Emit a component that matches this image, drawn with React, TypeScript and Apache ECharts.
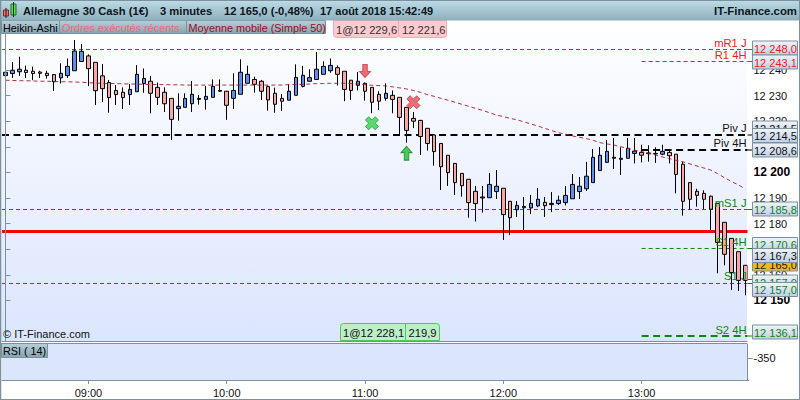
import React, { useEffect, useRef } from "react";
import * as echarts from "echarts";

const opens = [12237.8,12238.6,12239.3,12239.9,12239.5,12239.2,12238.7,12238.2,12236.9,12237.8,12239.7,12243.3,12245.5,12243.0,12237.7,12235.1,12232.0,12231.3,12230.4,12231.5,12234.7,12235.6,12233.2,12231.3,12228.9,12224.9,12225.4,12226.8,12228.5,12228.5,12229.3,12231.7,12231.7,12228.9,12230.5,12234.8,12236.3,12235.6,12233.5,12230.9,12228.9,12228.2,12230.1,12233.6,12235.6,12236.3,12238.3,12239.7,12240.9,12239.5,12236.0,12234.0,12234.8,12233.2,12230.5,12228.9,12230.1,12229.3,12225.4,12221.1,12220.3,12217.2,12214.6,12211.3,12206.7,12203.5,12199.6,12197.3,12192.6,12190.0,12190.1,12192.5,12193.8,12188.7,12185.4,12186.2,12186.1,12186.9,12188.3,12187.4,12187.8,12188.2,12189.7,12192.5,12193.6,12196.0,12200.7,12203.9,12205.5,12205.1,12205.5,12207.4,12207.8,12207.3,12207.4,12207.1,12207.8,12207.1,12203.2,12196.0,12192.6,12191.8,12190.7,12187.9,12180.5,12174.2,12169.0,12163.7];
const closes = [12239.1,12239.9,12240.3,12239.0,12238.6,12238.7,12237.8,12235.4,12238.7,12241.4,12247.4,12247.3,12240.5,12231.9,12232.7,12229.2,12230.4,12229.2,12232.4,12238.3,12236.7,12230.9,12229.3,12226.8,12220.7,12225.8,12228.9,12230.5,12228.9,12229.7,12233.6,12232.0,12226.2,12232.0,12239.1,12238.3,12234.4,12231.7,12228.3,12226.6,12227.8,12231.7,12237.1,12237.9,12237.0,12240.3,12241.4,12241.8,12238.3,12232.4,12232.0,12235.6,12231.7,12227.4,12227.8,12230.9,12228.5,12221.5,12216.4,12220.0,12214.0,12211.3,12208.1,12202.2,12199.9,12196.0,12194.8,12188.2,12187.8,12190.4,12195.3,12194.6,12183.5,12182.3,12187.1,12186.7,12187.9,12189.5,12187.0,12187.9,12189.1,12191.0,12195.3,12194.6,12198.5,12205.9,12206.7,12208.2,12205.9,12205.5,12209.4,12208.3,12206.7,12207.6,12207.2,12208.2,12206.5,12199.2,12188.7,12189.5,12191.0,12189.5,12185.6,12172.6,12168.0,12160.9,12157.8,12157.8];
const lows = [12235.7,12236.9,12237.7,12236.9,12236.0,12236.9,12236.6,12231.8,12234.7,12236.9,12239.7,12243.3,12233.7,12226.3,12227.5,12223.3,12226.3,12224.8,12226.3,12231.5,12231.1,12223.1,12226.3,12223.6,12212.7,12220.2,12225.4,12223.6,12226.5,12224.5,12229.3,12231.5,12220.5,12224.8,12230.5,12234.8,12231.1,12228.3,12224.1,12223.3,12224.0,12228.2,12230.1,12233.2,12235.4,12236.3,12238.3,12238.9,12233.9,12227.8,12228.3,12232.0,12228.0,12223.1,12224.4,12228.0,12223.1,12215.0,12211.6,12217.3,12206.8,12208.5,12202.6,12193.1,12194.7,12191.2,12190.5,12182.3,12180.8,12184.3,12190.1,12189.6,12173.6,12175.5,12182.6,12177.5,12183.7,12186.4,12182.6,12184.5,12187.3,12187.1,12189.7,12189.6,12192.7,12196.0,12200.7,12203.9,12201.3,12199.0,12205.5,12203.5,12203.9,12204.2,12203.7,12206.7,12203.5,12191.8,12183.1,12185.3,12186.6,12185.6,12177.5,12160.6,12163.7,12154.1,12153.7,12152.0];
const highs = [12241.6,12243.1,12245.2,12241.7,12241.3,12239.7,12239.7,12238.4,12242.6,12244.5,12251.7,12250.2,12246.1,12243.0,12242.3,12236.1,12234.1,12233.2,12234.5,12241.9,12240.6,12237.7,12235.1,12233.2,12228.9,12230.9,12230.9,12235.7,12230.2,12233.7,12236.3,12236.3,12231.8,12238.7,12244.2,12241.7,12237.4,12236.1,12233.9,12233.1,12230.6,12234.4,12242.2,12241.6,12240.3,12247.0,12243.4,12244.5,12241.8,12239.5,12236.1,12239.2,12235.1,12233.2,12231.7,12234.8,12232.0,12229.3,12225.4,12223.6,12220.5,12217.2,12214.6,12211.3,12206.7,12203.5,12199.6,12197.3,12194.7,12194.7,12199.8,12200.9,12193.8,12188.7,12188.8,12190.4,12191.2,12193.9,12190.4,12192.3,12190.9,12194.7,12199.4,12198.2,12204.1,12209.1,12209.9,12212.6,12213.4,12209.8,12213.4,12213.4,12210.8,12210.6,12209.8,12210.8,12208.9,12207.1,12204.1,12196.1,12193.6,12193.0,12190.9,12187.9,12180.5,12174.2,12169.0,12163.7];
const movingAverage = [12236.0,12235.9,12235.8,12235.8,12235.7,12235.6,12235.6,12235.5,12235.4,12235.4,12235.3,12235.2,12235.0,12234.9,12234.8,12234.7,12234.7,12234.6,12234.5,12234.5,12234.4,12234.3,12234.3,12234.3,12234.2,12234.2,12234.1,12234.1,12234.1,12234.1,12234.1,12234.1,12234.1,12234.1,12234.1,12234.1,12234.1,12234.1,12234.1,12234.1,12234.1,12234.3,12234.3,12234.4,12234.5,12234.7,12234.7,12234.8,12234.8,12234.8,12234.7,12234.5,12234.3,12234.0,12233.9,12233.8,12233.4,12233.0,12232.6,12232.0,12231.3,12230.4,12229.7,12228.9,12228.2,12227.4,12226.6,12225.8,12225.0,12224.2,12223.3,12222.4,12221.8,12221.1,12220.5,12219.7,12218.9,12218.1,12217.2,12216.3,12215.5,12214.9,12214.2,12213.7,12213.2,12212.5,12211.6,12211.1,12210.7,12210.0,12209.4,12208.7,12208.1,12207.4,12206.8,12206.0,12205.4,12204.7,12204.1,12203.3,12202.5,12201.7,12200.9,12199.5,12197.9,12196.4,12195.1,12193.5];

const priceTicks = [12250, 12240, 12230, 12220, 12210, 12200, 12190, 12180, 12170, 12160, 12150, 12140];
const boldTicks = [12200, 12150];
const rsiTicks = [350];
const hourLabels = ["09:00", "10:00", "11:00", "12:00", "13:00"];
const firstBarMinutes = 8 * 60 + 24;
const barMinutes = 3;
const categories = opens.map((_, i) => {
  const t = firstBarMinutes + i * barMinutes;
  return String(Math.floor(t / 60)).padStart(2, "0") + ":" + String(t % 60).padStart(2, "0");
});

const H13 = categories.indexOf("13:00");
const levelRows = [
  { name: "mR1 J", value: 12248.0, from: -0.5, color: "#e81c1c", width: 1, dash: [4, 3] },
  { name: "R1 4H", value: 12243.3, from: H13, color: "#e81c1c", width: 1, dash: [4, 3] },
  { name: "Piv J", value: 12214.6, from: -0.5, color: "#000000", width: 2, dash: [7, 4.5] },
  { name: "Piv 4H", value: 12208.74, from: H13, color: "#000000", width: 2, dash: [7, 4.5] },
  { name: "mS1 J", value: 12185.5, from: -0.5, color: "#0c860c", width: 1, dash: [4, 3] },
  { name: "S1 4H", value: 12170.27, from: H13, color: "#0c860c", width: 1, dash: [4, 3] },
  { name: "S1 J", value: 12156.6, from: -0.5, color: "#0c860c", width: 1, dash: [4, 3] },
  { name: "S2 4H", value: 12136.1, from: H13, color: "#0c860c", width: 2, dash: [7, 4.5] },
];
const stopLevel = 12176.9;

const sellArrow = [[52, 12239.6]];
const buyArrow = [[58, 12207.5]];
const redCross = [[59, 12227.4]];
const greenCross = [[53, 12219.2]];

const FONT = "'Liberation Sans', Arial, sans-serif";
const BORDER = "#7b919d";
const X_PATH = "path://M3 0L6 3L9 0L12 3L9 6L12 9L9 12L6 9L3 12L0 9L3 6L0 3Z";
const DOWN_PATH = "path://M3.5 0H8.5V7H12L6 13L0 7H3.5Z";
const UP_PATH = "path://M6 0L12 6H8.5V13H3.5V6H0Z";

const grad = (a: string, b: string) =>
  new echarts.graphic.LinearGradient(0, 0, 0, 1, [
    { offset: 0, color: a },
    { offset: 1, color: b },
  ]);

const text = (x: number, y: number, s: string, fill: string, opts: any = {}) => ({
  type: "text",
  z: opts.z ?? 20,
  x,
  y,
  style: {
    text: s,
    fill,
    font: `${opts.weight ?? "normal"} ${opts.size ?? 11}px ${FONT}`,
    textAlign: opts.align ?? "left",
    textVerticalAlign: "middle",
  },
});

const box = (x: number, y: number, w: number, h: number, fill: any, stroke: string | null, z: number, r: any = 0) => ({
  type: "rect",
  z,
  shape: { x, y, width: w, height: h, r },
  style: { fill, stroke: stroke ?? undefined, lineWidth: stroke ? 1 : 0 },
});

const priceTag = (cy: number, label: string, color: string, z: number, fill?: any) => [
  box(752.5, cy - 7, 45, 14, fill ?? grad("#f0f4fb", "#bfcfe6"), BORDER, z),
  text(754, cy + 0.5, label, color, { z: z + 0.1 }),
];

const connector = (y: number, color: string) => ({
  type: "line",
  z: 8,
  shape: { x1: 747.5, y1: y, x2: 752.5, y2: y },
  style: { stroke: color, lineWidth: 1 },
});

const tagFill = () => grad("#b7cfd9", "#87a3af");
const HEAD = "#0c1620";

const graphics: any[] = [
  box(1, 20, 746, 321, grad("#ffffff", "#dbe5fd"), null, -10),
  box(747.5, 0, 52.5, 380, "#ffffff", null, 4),
  box(0.5, 0.5, 799, 20, grad("#bcdbe6", "#8dafbb"), null, 15),
  box(3.5, 10, 5, 6, "#f26e6e", "#8a2020", 16),
  box(11, 4, 5, 11, "#55e055", "#207020", 16),
  { type: "line", z: 16, shape: { x1: 6, y1: 8, x2: 6, y2: 18 }, style: { stroke: "#222", lineWidth: 1 } },
  { type: "line", z: 16, shape: { x1: 13.5, y1: 2, x2: 13.5, y2: 17 }, style: { stroke: "#222", lineWidth: 1 } },
  text(23, 11, "Allemagne 30 Cash (1€)", HEAD, { size: 11.2, weight: "bold" }),
  text(160, 11, "3 minutes", HEAD, { size: 11.2, weight: "bold" }),
  text(224, 11, "12 165,0 (-0,48%)", HEAD, { size: 11.2, weight: "bold" }),
  text(320, 11, "17 août 2018 15:42:49", HEAD, { size: 11, weight: "bold" }),
  text(797, 11, "IT-Finance.com", HEAD, { size: 11.4, weight: "bold", align: "right" }),

  box(1.5, 20.5, 58, 13, tagFill(), BORDER, 12),
  text(3, 27.5, "Heikin-Ashi", "#000000", { size: 10.8, z: 13 }),
  box(59.5, 20.5, 127, 13, tagFill(), BORDER, 12),
  text(62, 27.5, "Ordres exécutés récents", "#f06a74", { size: 10.8, z: 13 }),
  box(186.5, 20.5, 139, 13, tagFill(), BORDER, 12),
  text(188.5, 27.5, "Moyenne mobile (Simple 50)", "#9c0c1c", { size: 10.8, z: 13 }),

  box(398.5, 20.5, 48, 17, "#fbcbd0", "#f4a9b1", 12, [0, 0, 3, 3]),
  text(402, 29.5, "12 221,6", "#333333", { size: 11.2, z: 13 }),
  box(333.5, 20.5, 65, 17, "#fbcbd0", "#f4a9b1", 12.5, [0, 0, 3, 3]),
  text(336, 29.5, "1@12 229,6", "#333333", { size: 11.2, z: 13 }),

  box(405.5, 323.5, 34, 17, "#bdeec8", "#4ac95c", 12, [0, 3, 0, 0]),
  text(408.5, 333, "219,9", "#111111", { size: 11.2, z: 13 }),
  box(340.5, 323.5, 65, 17, "#bdeec8", "#4ac95c", 12.5, [3, 0, 0, 0]),
  text(343, 333, "1@12 228,1", "#111111", { size: 11.2, z: 13 }),
  text(3, 334, "© IT-Finance.com", "#111111", { size: 11, z: 13 }),

  { type: "line", z: 11, shape: { x1: 1, y1: 343.5, x2: 747, y2: 343.5 }, style: { stroke: BORDER, lineWidth: 1 } },
  box(1.5, 343.5, 46, 14, tagFill(), BORDER, 12),
  text(3, 351, "RSI ( 14)", "#000000", { size: 10.8, z: 13 }),

  text(746.5, 42.5, "mR1 J", "#e81c1c", { align: "right", size: 11.2 }),
  text(746.5, 54.5, "R1 4H", "#e81c1c", { align: "right", size: 11.2 }),
  text(746.5, 128, "Piv J", "#111111", { align: "right", size: 11.2 }),
  text(746.5, 143, "Piv 4H", "#111111", { align: "right", size: 11.2 }),
  text(746.5, 203, "mS1 J", "#0c860c", { align: "right", size: 11.2 }),
  text(746.5, 242, "S1 4H", "#0c860c", { align: "right", size: 11.2 }),
  text(746.5, 276, "S1 J", "#0c860c", { align: "right", size: 11.2 }),
  text(746.5, 329.5, "S2 4H", "#0c860c", { align: "right", size: 11.2 }),

  connector(49.5, "#e81c1c"),
  connector(61.5, "#e81c1c"),
  connector(135, "#000000"),
  connector(150, "#000000"),
  connector(209.5, "#0c860c"),
  connector(248.5, "#0c860c"),
  connector(279.5, "#e81c1c"),
  connector(283.5, "#0c860c"),
  connector(336, "#0c860c"),

  ...priceTag(48, "12 248,0", "#e81c1c", 9),
  ...priceTag(62, "12 243,1", "#e81c1c", 9.5),
  ...priceTag(128, "12 214,5", "#111111", 9),
  ...priceTag(150, "12 208,6", "#111111", 9.2),
  ...priceTag(135.5, "12 214,5", "#111111", 9.5),
  ...priceTag(209, "12 185,8", "#0c860c", 9),
  ...priceTag(244.5, "12 170,6", "#0c860c", 9),
  ...priceTag(264, "12 165,0", "#222222", 9.2, "#f1b81c"),
  ...priceTag(255.5, "12 167,3", "#111111", 9.5),
  ...priceTag(282, "12 157,0", "#0c860c", 9),
  ...priceTag(289.5, "12 157,0", "#0c860c", 9.5),
  ...priceTag(332, "12 136,1", "#0c860c", 9),

  { type: "line", z: 22, shape: { x1: 0.5, y1: 0.5, x2: 0.5, y2: 400 }, style: { stroke: BORDER, lineWidth: 1.5 } },
  { type: "line", z: 22, shape: { x1: 0, y1: 0.5, x2: 800, y2: 0.5 }, style: { stroke: BORDER, lineWidth: 1 } },
  { type: "line", z: 22, shape: { x1: 0, y1: 399.5, x2: 800, y2: 399.5 }, style: { stroke: BORDER, lineWidth: 1 } },
  { type: "line", z: 22, shape: { x1: 799.5, y1: 0, x2: 799.5, y2: 400 }, style: { stroke: BORDER, lineWidth: 1 } },
];

const levelSeries = levelRows.map((l) => ({
  type: "line",
  name: l.name,
  xAxisIndex: 1,
  yAxisIndex: 0,
  z: 2,
  symbol: "none",
  silent: true,
  lineStyle: { color: l.color, width: l.width, type: l.dash },
  data: [
    [l.from, l.value],
    [107.5, l.value],
  ],
}));

const markerSeries = (name: string, data: number[][], symbol: string, size: number[], color: string, stroke: string) => ({
  type: "scatter",
  name,
  xAxisIndex: 1,
  yAxisIndex: 0,
  z: 6,
  symbol,
  symbolSize: size,
  itemStyle: { color, borderColor: stroke, borderWidth: 1 },
  data,
});

const option: any = {
  animation: false,
  backgroundColor: "#ffffff",
  textStyle: { fontFamily: FONT },
  graphic: { elements: graphics },
  grid: [
    { left: 2, top: 21, width: 746.8, height: 320 },
    { left: 2, top: 344, width: 746.8, height: 36, show: true, backgroundColor: "#dbe6fd", borderWidth: 0 },
  ],
  xAxis: [
    {
      type: "category",
      gridIndex: 0,
      data: categories,
      boundaryGap: true,
      axisLine: { show: true, lineStyle: { color: BORDER } },
      axisTick: { show: false },
      axisLabel: { show: false },
      splitLine: { show: false },
    },
    { type: "value", gridIndex: 0, min: -0.5, max: 107.5, show: false, splitLine: { show: false } },
    {
      type: "category",
      gridIndex: 1,
      data: categories,
      axisLine: { show: true, lineStyle: { color: BORDER } },
      axisTick: {
        show: true,
        alignWithLabel: true,
        length: 4,
        lineStyle: { color: BORDER },
        interval: (_: number, v: string) => hourLabels.includes(v),
      },
      axisLabel: {
        show: true,
        interval: (_: number, v: string) => hourLabels.includes(v),
        color: "#111111",
        fontSize: 11,
        fontFamily: FONT,
        margin: 7,
      },
      splitLine: { show: false },
    },
  ],
  yAxis: [
    {
      type: "value",
      gridIndex: 0,
      position: "right",
      offset: -1.3,
      z: 5,
      min: 12134.13,
      max: 12259.13,
      scale: true,
      axisLine: { show: true, lineStyle: { color: BORDER } },
      axisTick: { show: true, length: 5, lineStyle: { color: BORDER }, customValues: priceTicks },
      axisLabel: {
        show: true,
        customValues: priceTicks,
        margin: 6,
        color: "#111111",
        fontSize: 11,
        fontFamily: FONT,
        hideOverlap: false,
        showMinLabel: false,
        showMaxLabel: false,
        formatter: (v: number) => {
          const s = String(v).replace(/^(\d\d)/, "$1 ");
          return boldTicks.includes(v) ? `{b|${s}}` : s;
        },
        rich: { b: { fontWeight: "bold", fontSize: 12, color: "#000000", fontFamily: FONT } },
      },
      splitLine: { show: false },
    },
    {
      type: "value",
      gridIndex: 1,
      position: "right",
      offset: -1.3,
      z: 5,
      min: 274,
      max: 400,
      axisLine: { show: true, lineStyle: { color: BORDER } },
      axisTick: { show: true, length: 5, lineStyle: { color: BORDER }, customValues: rsiTicks },
      axisLabel: {
        show: true,
        customValues: rsiTicks,
        margin: 6,
        color: "#111111",
        fontSize: 11,
        fontFamily: FONT,
        formatter: (v: number) => `-${v}`,
      },
      splitLine: { show: false },
    },
  ],
  series: [
    ...levelSeries,
    {
      type: "line",
      name: "Stop",
      xAxisIndex: 1,
      yAxisIndex: 0,
      z: 2,
      symbol: "none",
      lineStyle: { color: "#ff0000", width: 3 },
      data: [
        [-0.5, stopLevel],
        [107.5, stopLevel],
      ],
    },
    {
      type: "candlestick",
      name: "Heikin-Ashi",
      xAxisIndex: 0,
      yAxisIndex: 0,
      z: 3,
      barWidth: 4,
      itemStyle: {
        color: "#5d8fee",
        color0: "#fba6a6",
        borderColor: "#000000",
        borderColor0: "#000000",
        borderWidth: 1,
      },
      data: opens.map((o, i) => [o, closes[i], lows[i], highs[i]]),
    },
    {
      type: "line",
      name: "Moyenne mobile (Simple 50)",
      xAxisIndex: 0,
      yAxisIndex: 0,
      z: 4,
      symbol: "none",
      lineStyle: { color: "#a8182c", width: 1, type: [4, 3], opacity: 0.9 },
      data: movingAverage,
    },
    markerSeries("sell", sellArrow, DOWN_PATH, [11, 13], "#ea4a56", "#c83c46"),
    markerSeries("buy", buyArrow, UP_PATH, [11, 14], "#22bb33", "#118822"),
    markerSeries("cross-red", redCross, X_PATH, [13, 13], "#ea4a56", "#c83c46"),
    markerSeries("cross-green", greenCross, X_PATH, [13, 13], "#35d04a", "#1ea030"),
    { type: "line", xAxisIndex: 2, yAxisIndex: 1, symbol: "none", data: [] },
  ],
};

export default function App() {
  const ref = useRef<HTMLDivElement>(null);
  useEffect(() => {
    const chart = echarts.init(ref.current!, undefined, { renderer: "svg" });
    chart.setOption(option);
    return () => chart.dispose();
  }, []);
  return <div ref={ref} style={{ position: "fixed", left: 0, top: 0, width: 800, height: 400 }} />;
}
